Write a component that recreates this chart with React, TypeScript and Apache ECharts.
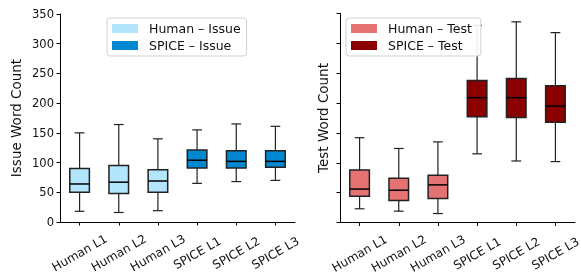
import React, { useEffect, useRef } from "react";
import * as echarts from "echarts";

const categories = ["Human L1", "Human L2", "Human L3", "SPICE L1", "SPICE L2", "SPICE L3"];
const groups = ["Human", "Human", "Human", "SPICE", "SPICE", "SPICE"];

const issueMin = [18, 16, 19, 65, 68, 70];
const issueQ1 = [50, 48, 50, 91, 91, 92];
const issueMedian = [64, 67, 69, 104, 102, 102];
const issueQ3 = [90, 95, 88, 121, 120, 120];
const issueMax = [150, 164, 140, 155, 165, 161];

const testMin = [23, 19, 15, 115, 103, 102];
const testQ1 = [44, 37, 40, 177, 176, 168];
const testMedian = [56, 54, 63, 209, 209, 195];
const testQ3 = [88, 74, 79, 238, 241, 229];
const testMax = [142, 124, 135, 330, 336, 318];

const yTicks = [0, 50, 100, 150, 200, 250, 300, 350];

const FONT = "DejaVu Sans";
const COLORS: Record<string, Record<string, string>> = {
  issue: { Human: "#b3e5fc", SPICE: "#0288d1" },
  test: { Human: "#e57373", SPICE: "#8b0000" },
};

function buildData(mn: number[], q1: number[], md: number[], q3: number[], mx: number[]) {
  return categories.map((_, i) => [i, mn[i], q1[i], md[i], q3[i], mx[i]]);
}

function makeRender(kind: string) {
  return (params: any, api: any) => {
    const i = api.value(0);
    const band = api.size([1, 0])[0];
    const half = band * 0.25;
    const cap = band * 0.125;
    const pMin = api.coord([i, api.value(1)]);
    const pQ1 = api.coord([i, api.value(2)]);
    const pMed = api.coord([i, api.value(3)]);
    const pQ3 = api.coord([i, api.value(4)]);
    const pMax = api.coord([i, api.value(5)]);
    const x = pMin[0];
    const fill = COLORS[kind][groups[params.dataIndex]];
    const lineStyle = { stroke: "#222", lineWidth: 1.2 };
    return {
      type: "group",
      children: [
        { type: "line", shape: { x1: x, y1: pMin[1], x2: x, y2: pQ1[1] }, style: lineStyle },
        { type: "line", shape: { x1: x, y1: pQ3[1], x2: x, y2: pMax[1] }, style: lineStyle },
        { type: "line", shape: { x1: x - cap, y1: pMin[1], x2: x + cap, y2: pMin[1] }, style: lineStyle },
        { type: "line", shape: { x1: x - cap, y1: pMax[1], x2: x + cap, y2: pMax[1] }, style: lineStyle },
        {
          type: "rect",
          shape: { x: x - half, y: pQ3[1], width: half * 2, height: pQ1[1] - pQ3[1] },
          style: { fill, stroke: "#222", lineWidth: 1.5 },
        },
        {
          type: "line",
          shape: { x1: x - half, y1: pMed[1], x2: x + half, y2: pMed[1] },
          style: { stroke: "#000", lineWidth: 1.5 },
        },
      ],
    };
  };
}

export default function App() {
  const ref = useRef<HTMLDivElement>(null);
  useEffect(() => {
    if (!ref.current) return;
    const chart = echarts.init(ref.current, undefined, { renderer: "svg" });
    const axisLine = { show: true, lineStyle: { color: "#000", width: 1 } };
    const axisTick = { show: true, length: 3.5, lineStyle: { color: "#000", width: 1 } };
    const xAxisCommon = {
      type: "category",
      data: categories,
      boundaryGap: true,
      axisLine,
      axisTick: { ...axisTick, alignWithLabel: true },
      axisLabel: {
        interval: 0,
        rotate: 30,
        align: "center",
        verticalAlign: "middle",
        margin: 31,
        fontFamily: FONT,
        fontSize: 12,
        color: "#111",
      },
      splitLine: { show: false },
    };
    const yAxisCommon = {
      type: "value",
      min: yTicks[0],
      max: yTicks[yTicks.length - 1],
      interval: 50,
      axisLine,
      axisTick,
      splitLine: { show: false },
      nameLocation: "middle",
      nameTextStyle: { fontFamily: FONT, fontSize: 13.5, color: "#111" },
    };
    const legendCommon = {
      orient: "vertical",
      icon: "rect",
      itemWidth: 26,
      itemHeight: 9,
      itemGap: 4,
      padding: [4, 9, 4, 5],
      borderColor: "#d0d0d0",
      borderWidth: 1,
      borderRadius: 3,
      backgroundColor: "rgba(255,255,255,0.92)",
      selectedMode: false,
      textStyle: { fontFamily: FONT, fontSize: 12.5, color: "#111", padding: [0, 0, 0, 6] },
      z: 10,
    };
    chart.setOption({
      animation: false,
      grid: [
        { left: 60, right: 286, top: 14, bottom: 54, outerBoundsMode: "none", containLabel: false },
        { left: 340, right: 6, top: 13.5, bottom: 53.5, outerBoundsMode: "none", containLabel: false },
      ],
      xAxis: [
        { ...xAxisCommon, gridIndex: 0 },
        { ...xAxisCommon, gridIndex: 1 },
      ],
      yAxis: [
        {
          ...yAxisCommon,
          gridIndex: 0,
          name: "Issue Word Count",
          nameGap: 37,
          axisLabel: { fontFamily: FONT, fontSize: 11.5, color: "#111", margin: 6 },
        },
        {
          ...yAxisCommon,
          gridIndex: 1,
          name: "Test Word Count",
          nameGap: 10,
          axisLabel: { show: false },
        },
      ],
      legend: [
        { ...legendCommon, left: 107, top: 18, padding: [4, 6, 4, 5], data: ["Human – Issue", "SPICE – Issue"] },
        { ...legendCommon, left: 346, top: 18, data: ["Human – Test", "SPICE – Test"] },
      ],
      series: [
        {
          type: "custom",
          name: "issue",
          xAxisIndex: 0,
          yAxisIndex: 0,
          renderItem: makeRender("issue"),
          encode: { x: 0, y: [1, 2, 3, 4, 5] },
          data: buildData(issueMin, issueQ1, issueMedian, issueQ3, issueMax),
        },
        {
          type: "custom",
          name: "test",
          xAxisIndex: 1,
          yAxisIndex: 1,
          renderItem: makeRender("test"),
          encode: { x: 0, y: [1, 2, 3, 4, 5] },
          data: buildData(testMin, testQ1, testMedian, testQ3, testMax),
        },
        { type: "bar", name: "Human – Issue", xAxisIndex: 0, yAxisIndex: 0, data: [], itemStyle: { color: COLORS.issue.Human } },
        { type: "bar", name: "SPICE – Issue", xAxisIndex: 0, yAxisIndex: 0, data: [], itemStyle: { color: COLORS.issue.SPICE } },
        { type: "bar", name: "Human – Test", xAxisIndex: 1, yAxisIndex: 1, data: [], itemStyle: { color: COLORS.test.Human } },
        { type: "bar", name: "SPICE – Test", xAxisIndex: 1, yAxisIndex: 1, data: [], itemStyle: { color: COLORS.test.SPICE } },
      ],
    });
    return () => chart.dispose();
  }, []);
  return <div ref={ref} style={{ position: "fixed", left: 0, top: 0, width: 581, height: 276 }} />;
}
